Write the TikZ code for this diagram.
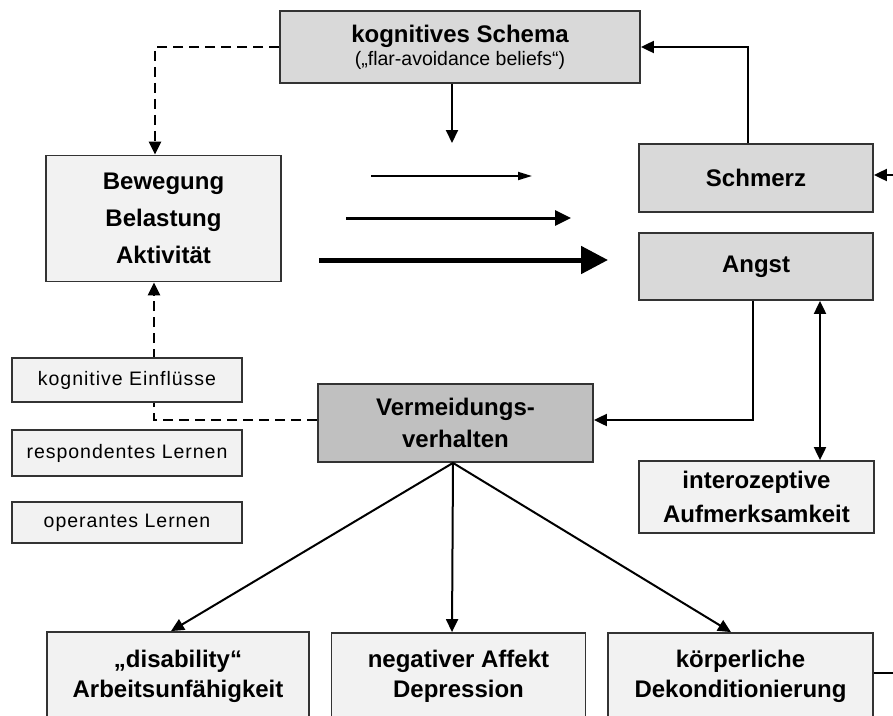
\documentclass[tikz,border=0pt]{standalone}
\usepackage{fontspec}
\setmainfont{Liberation Sans}
\newfontfamily\smallfont[LetterSpace=5]{Liberation Sans}
\usetikzlibrary{arrows.meta}
\definecolor{lightbox}{HTML}{F2F2F2}
\definecolor{midbox}{HTML}{D9D9D9}
\definecolor{darkbox}{HTML}{C0C0C0}
\definecolor{edgec}{HTML}{333333}
\begin{document}
\begin{tikzpicture}[x=1pt,y=-1pt,
  boxbase/.style={draw=edgec, line width=1.8pt, rectangle, inner sep=0pt, align=center},
  bigbox/.style={boxbase, font=\fontsize{24}{37}\selectfont\bfseries},
  smallbox/.style={boxbase, fill=lightbox, minimum width=230pt, font=\fontsize{19.5}{22}\smallfont},
  conn/.style={line width=2pt, draw=black, -{Triangle[length=13pt,width=12pt]}},
  dconn/.style={conn, dash pattern=on 10pt off 6pt, line width=2.4pt},
  btext/.style={align=center, inner sep=0pt, font=\fontsize{24}{30}\selectfont\bfseries}
]
\clip (0,0) rectangle (893,715);
\fill[white] (0,0) rectangle (893,715);

% coordinates for free arrows
\coordinate (a1s) at (371,176); \coordinate (a1e) at (532,176);
\coordinate (a2s) at (346,218); \coordinate (a2e) at (571,218);
\coordinate (a3s) at (319,260); \coordinate (a3e) at (608,260);
\coordinate (sdown) at (452,143);
\coordinate (rin) at (900,175);
\coordinate (rout) at (900,673);

% top / middle boxes
\node[bigbox, fill=midbox, minimum width=360pt, minimum height=72pt, font=\fontsize{24}{23}\selectfont\bfseries] (sch) at (460,47)
  {kognitives Schema\\{\mdseries\fontsize{19.5}{23}\selectfont(„flar-avoidance beliefs“)}};
\node[bigbox, fill=lightbox, minimum width=235pt, minimum height=126pt] (bew) at (163.5,218.5)
  {Bewegung\\Belastung\\Aktivität};
\node[bigbox, fill=midbox, minimum width=234pt, minimum height=68pt] (schm) at (756,178) {Schmerz};
\node[bigbox, fill=midbox, minimum width=234pt, minimum height=67pt] (angst) at (756,266.5) {Angst};
\node[bigbox, fill=darkbox, minimum width=275pt, minimum height=78pt, font=\fontsize{24}{32}\selectfont\bfseries] (vm) at (455.5,423)
  {Vermeidungs-\\verhalten};
\node[bigbox, fill=lightbox, minimum width=235pt, minimum height=72pt, font=\fontsize{24}{34}\selectfont\bfseries] (intero) at (756.5,497)
  {interozeptive\\Aufmerksamkeit};

% dashed connectors (drawn before the small boxes)
\draw[dconn] (sch.west) -| ([xshift=-8.5pt]bew.north);
\draw[dconn] ([yshift=3pt]vm.west) -| ([xshift=-9.5pt]bew.south);

% small boxes
\node[smallbox, minimum height=44pt] (kog) at (127,380) {kognitive Einflüsse};
\node[smallbox, minimum height=46pt] (resp) at (127,453) {respondentes Lernen};
\node[smallbox, minimum height=41pt] (oper) at (127,522.5) {operantes Lernen};

% bottom boxes (cut by the lower edge)
\node[boxbase, fill=lightbox, minimum width=262pt, minimum height=130pt] (dis) at (178,697) {};
\node[boxbase, fill=lightbox, minimum width=254pt, minimum height=130pt] (dep) at (458.5,698) {};
\node[boxbase, fill=lightbox, minimum width=265pt, minimum height=130pt] (dek) at (740.5,698) {};
\node[btext] (distext) at (178,676) {„disability“\\Arbeitsunfähigkeit};
\node[btext] (deptext) at (458.5,676) {negativer Affekt\\Depression};
\node[btext] (dektext) at (740.5,676) {körperliche\\Dekonditionierung};

% solid connectors
\draw[conn] ([xshift=-8pt]sch.south) -- (sdown);
\draw[conn] ([xshift=-8pt]schm.north) |- (sch.east);
\draw[conn] (rin) -- ([yshift=3pt]schm.east);
\draw[conn] ([xshift=-3pt]angst.south) |- ([yshift=3pt]vm.east);
\draw[line width=2pt, {Triangle[length=13pt,width=12pt]}-{Triangle[length=13pt,width=12pt]}]
  ([xshift=64pt]angst.south) -- ([xshift=63.5pt]intero.north);
\draw[conn] ([xshift=-2.5pt]vm.south) -- ([xshift=-7pt]dis.north);
\draw[conn] ([xshift=-2.5pt]vm.south) -- ([xshift=-6.5pt]dep.north);
\draw[conn] ([xshift=-2.5pt]vm.south) -- ([xshift=-9.5pt]dek.north);
\draw[line width=2pt] (dek.east |- rout) -- (rout);

% free arrows of increasing weight
\draw[line width=1.8pt, -{Triangle[length=14pt,width=8pt]}] (a1s) -- (a1e);
\draw[line width=3pt, -{Triangle[length=16pt,width=15pt]}] (a2s) -- (a2e);
\draw[line width=5pt, -{Triangle[length=27pt,width=27pt]}] (a3s) -- (a3e);
\end{tikzpicture}
\end{document}
